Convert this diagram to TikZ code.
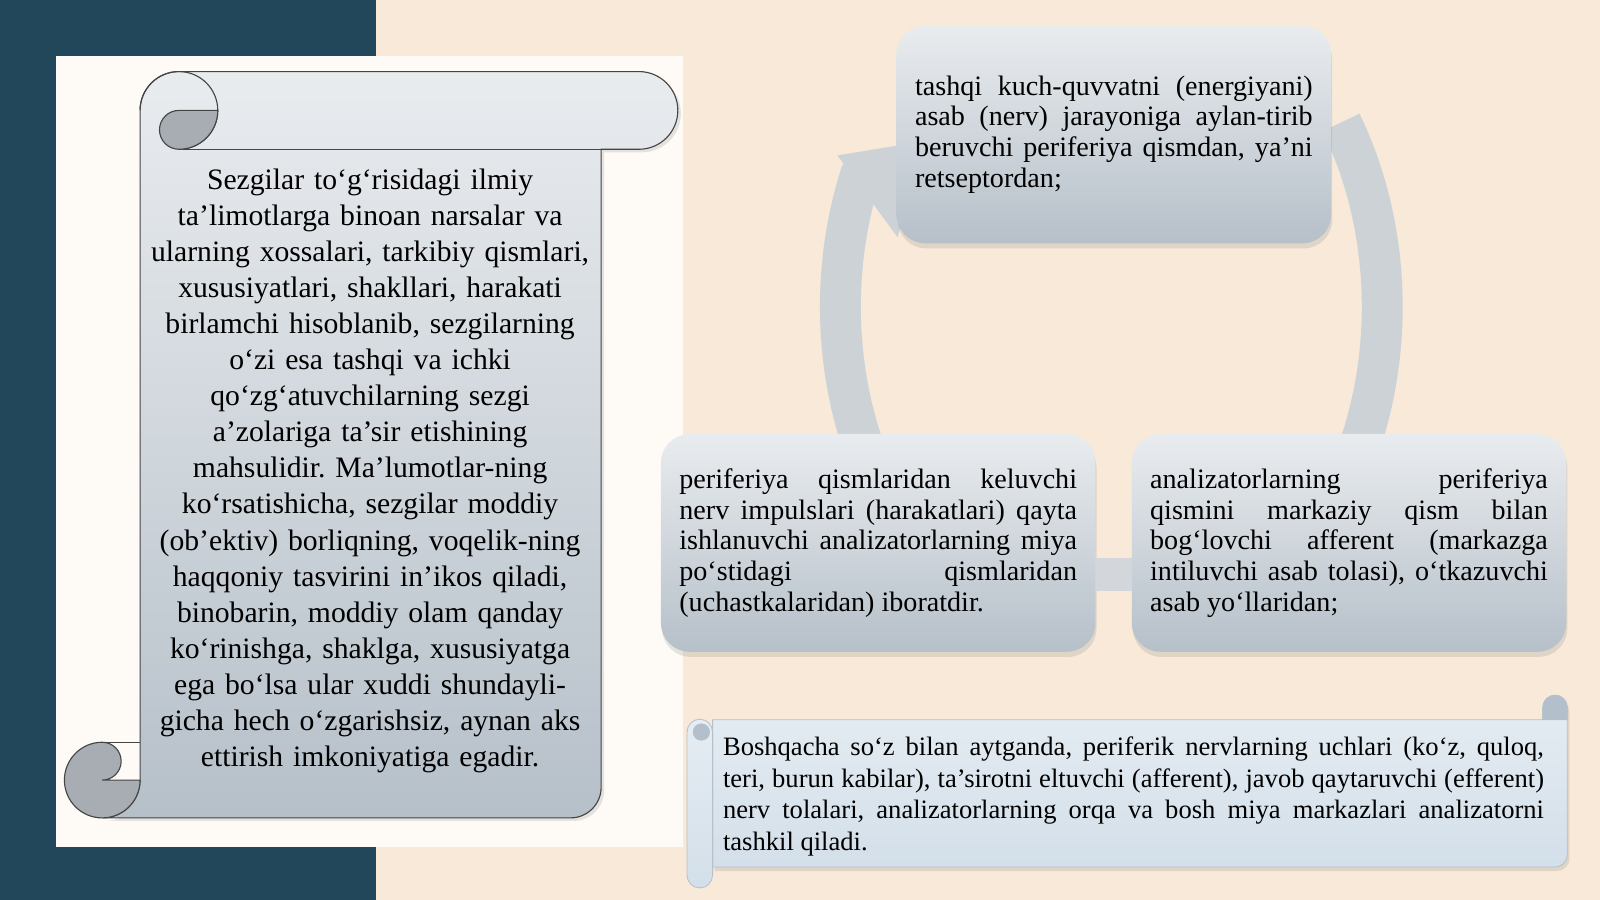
\documentclass[tikz,border=0pt]{standalone}
\usepackage{fontspec}
\setmainfont{Liberation Serif}
\usetikzlibrary{calc,shadows}

\definecolor{pagebg}{HTML}{F8E9D8}
\definecolor{darkband}{HTML}{22475B}
\definecolor{panelbg}{HTML}{FEFBF6}
\definecolor{boxtop}{HTML}{E9ECEF}
\definecolor{boxbot}{HTML}{B6C0C9}
\definecolor{curlgray}{HTML}{A7ADB3}
\definecolor{rimgray}{HTML}{454545}
\definecolor{ringgray}{HTML}{CDD2D6}
\definecolor{bridgegray}{HTML}{D3D7DB}
\definecolor{sheettop}{HTML}{E6EDF3}
\definecolor{sheetbot}{HTML}{D3DFE9}
\definecolor{sheetrim}{HTML}{B4C0CB}
\definecolor{knobgray}{HTML}{B3BFCA}

\hyphenpenalty=10000
\exhyphenpenalty=10000
\tolerance=10000
\frenchspacing

\tikzset{
  cyclebox/.style={rounded corners=28pt, top color=boxtop, bottom color=boxbot,
    drop shadow={opacity=0.2, shadow xshift=1pt, shadow yshift=-5pt},
    text width=389pt, inner xsep=18pt, inner ysep=0pt,
    minimum height=213pt, align=justify,
    font=\fontsize{27.5}{30}\selectfont},
  ring/.style={draw=ringgray, line width=40pt},
  bridge/.style={draw=bridgegray, line width=33pt},
  scrollrim/.style={draw=rimgray, line width=1.1pt},
  scrolltext/.style={anchor=base, inner sep=0pt, text width=450pt,
    align=center, font=\fontsize{29}{35.3}\selectfont},
  sheet/.style={draw=sheetrim, line width=0.8pt, top color=sheettop,
    bottom color=sheetbot},
  sheettext/.style={anchor=base west, inner sep=0pt, text width=803pt,
    align=justify, font=\fontsize{26}{31}\selectfont},
}

\begin{document}
\begin{tikzpicture}[x=1pt, y=-1pt]
  \useasboundingbox (0,0) rectangle (1565,880);

  % backdrop
  \fill[pagebg] (0,0) rectangle (1565,880);
  \fill[darkband] (0,0) rectangle (368,880);
  \fill[panelbg] (55,55) rectangle (668,828);

  % left scroll
  \path[scrollrim, top color=boxtop, bottom color=boxbot,
    drop shadow={opacity=0.2, shadow xshift=3pt, shadow yshift=-3pt}]
    (137,108) arc[start angle=180, end angle=270, radius=38]
    -- (625,70) arc[start angle=270, end angle=450, radius=38]
    -- (588,146) -- (588,770) arc[start angle=0, end angle=90, radius=30]
    -- (100,800) arc[start angle=90, end angle=0, radius=37]
    -- cycle;
  \draw[scrollrim] (175,146) -- (625,146);
  \draw[scrollrim] (137,108) arc[start angle=180, end angle=450, radius=38];
  \filldraw[scrollrim, fill=curlgray]
    (175,108) -- (213,108) arc[start angle=0, end angle=90, radius=38]
    arc[start angle=90, end angle=270, radius=19] -- cycle;
  \filldraw[scrollrim, fill=curlgray]
    (100,726) arc[start angle=270, end angle=0, radius=37] -- (100,763)
    arc[start angle=90, end angle=-90, radius=18.5] -- cycle;
  \draw[scrollrim] (100,726) -- (137,726);

  \node[scrolltext] (senses) at (362,185) {Sezgilar to‘g‘risidagi ilmiy\\
    ta’limotlarga binoan narsalar va\\
    ularning xossalari, tarkibiy qismlari,\\
    xususiyatlari, shakllari, harakati\\
    birlamchi hisoblanib, sezgilarning\\
    o‘zi esa tashqi va ichki\\
    qo‘zg‘atuvchilarning sezgi\\
    a’zolariga ta’sir etishining\\
    mahsulidir. Ma’lumotlar-ning\\
    ko‘rsatishicha, sezgilar moddiy\\
    (ob’ektiv) borliqning, voqelik-ning\\
    haqqoniy tasvirini in’ikos qiladi,\\
    binobarin, moddiy olam qanday\\
    ko‘rinishga, shaklga, xususiyatga\\
    ega bo‘lsa ular xuddi shundayli-\\
    gicha hech o‘zgarishsiz, aynan aks\\
    ettirish imkoniyatiga egadir.};

  % cycle ring
  \coordinate (hub) at (1087,300);
  \draw[ring] (hub) ++(155:265 and 340)
    arc[start angle=155, end angle=203, x radius=265, y radius=340];
  \fill[ringgray] (819,152) -- (905,138) -- (878,232) -- cycle;
  \draw[ring] (hub) ++(-32:265 and 340)
    arc[start angle=-32, end angle=24, x radius=265, y radius=340];

  \node[cyclebox] (receptor) at (1089.5,131.5) {tashqi kuch-quvvatni (energiyani)\linebreak
    asab (nerv) jarayoniga aylan-tirib\linebreak
    beruvchi periferiya qismdan, ya’ni\linebreak
    retseptordan;};
  \node[cyclebox] (cortex) at (859,531) {periferiya qismlaridan keluvchi\linebreak
    nerv impulslari (harakatlari) qayta\linebreak
    ishlanuvchi analizatorlarning miya\linebreak
    po‘stidagi qismlaridan\linebreak
    (uchastkalaridan) iboratdir.};
  \node[cyclebox] (pathway) at (1319.5,531) {analizatorlarning periferiya\linebreak
    qismini markaziy qism bilan\linebreak
    bog‘lovchi afferent (markazga\linebreak
    intiluvchi asab tolasi), o‘tkazuvchi\linebreak
    asab yo‘llaridan;};
  \draw[bridge] ($(pathway.west)+(0,31)$) -- ($(cortex.east)+(0,31)$);

  % bottom scroll
  \path[sheet, drop shadow={opacity=0.2, shadow xshift=2pt, shadow yshift=-4pt}]
    (697,704) -- (1509,704) -- (1509,692)
    arc[start angle=180, end angle=360, radius=12]
    -- (1533,836) arc[start angle=0, end angle=90, radius=12]
    -- (697,848) -- cycle;
  \filldraw[draw=sheetrim, line width=0.8pt, fill=knobgray]
    (1509,704) -- (1509,692) arc[start angle=180, end angle=360, radius=12]
    -- (1533,704) -- cycle;
  \path[sheet] (672,716) arc[start angle=180, end angle=360, radius=12.5]
    -- (697,856) arc[start angle=0, end angle=180, radius=12.5] -- cycle;
  \filldraw[draw=sheetrim, line width=0.8pt, fill=knobgray] (686,716) circle[radius=8];

  \node[sheettext] (summary) at (707,739) {Boshqacha so‘z bilan aytganda, periferik nervlarning uchlari (ko‘z, quloq,\linebreak
    teri, burun kabilar), ta’sirotni eltuvchi (afferent), javob qaytaruvchi (efferent)\linebreak
    nerv tolalari, analizatorlarning orqa va bosh miya markazlari analizatorni\linebreak
    tashkil qiladi.};
\end{tikzpicture}
\end{document}
